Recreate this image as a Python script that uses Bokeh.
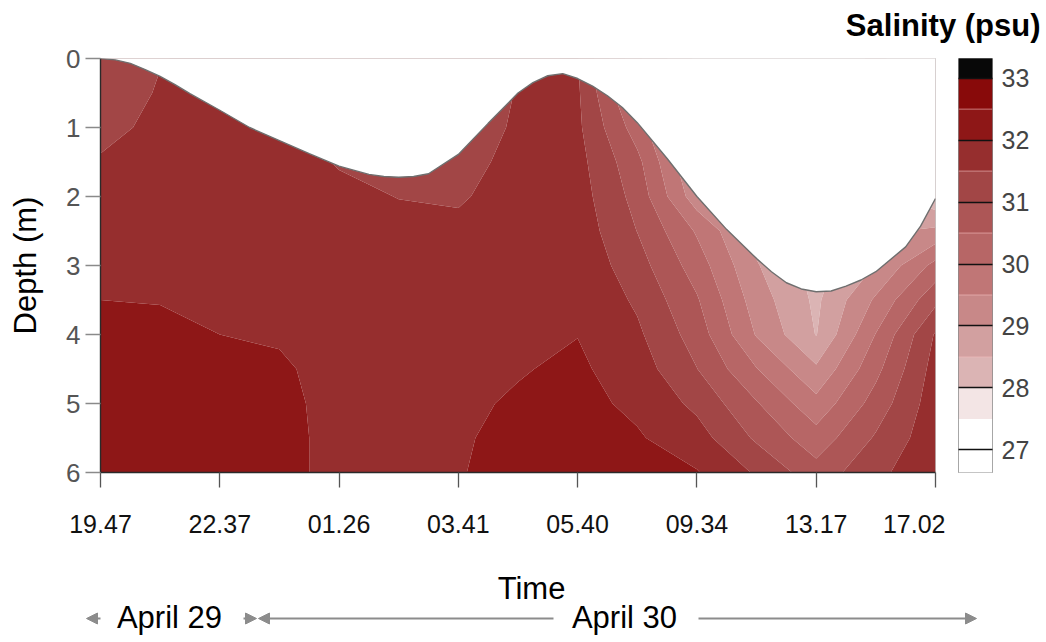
import numpy as np
from bokeh.plotting import figure
from bokeh.layouts import column, row
from bokeh.models import Range1d, FixedTicker, Arrow, NormalHead
from bokeh.core.properties import value
from bokeh.embed import file_html
from bokeh.resources import INLINE

FONT = "Liberation Sans"

# ---------------- data ----------------
time_labels = ["19.47", "22.37", "01.26", "03.41", "05.40", "09.34", "13.17", "17.02"]
stations = [0, 1, 2, 3, 4, 5, 6, 7]

# salinity grid: columns at half-station steps, rows at half-metre depth steps
grid_time = [0.0, 0.5, 1.0, 1.5, 2.0, 2.5, 3.0, 3.5, 4.0, 4.5, 5.0, 5.5, 6.0, 6.5, 7.0]
grid_depth = [0.0, 0.5, 1.0, 1.5, 2.0, 2.5, 3.0, 3.5, 4.0, 4.5, 5.0, 5.5, 6.0]

sal_t00 = [31.30, 31.37, 31.44, 31.52, 31.62, 31.75, 31.88, 32.00, 32.08, 32.12, 32.15, 32.15, 32.15]
sal_t05 = [31.49, 31.52, 31.55, 31.64, 31.72, 31.80, 31.90, 31.99, 32.06, 32.10, 32.12, 32.14, 32.15]
sal_t10 = [31.55, 31.58, 31.62, 31.68, 31.74, 31.80, 31.87, 31.94, 32.00, 32.06, 32.10, 32.12, 32.13]
sal_t15 = [31.60, 31.62, 31.65, 31.68, 31.72, 31.77, 31.83, 31.90, 31.97, 32.04, 32.08, 32.10, 32.10]
sal_t20 = [31.30, 31.35, 31.40, 31.47, 31.60, 31.70, 31.77, 31.82, 31.86, 31.90, 31.90, 31.90, 31.90]
sal_t25 = [31.20, 31.25, 31.30, 31.38, 31.49, 31.62, 31.70, 31.76, 31.80, 31.84, 31.86, 31.88, 31.90]
sal_t30 = [31.20, 31.25, 31.30, 31.38, 31.46, 31.58, 31.68, 31.76, 31.82, 31.87, 31.92, 31.96, 31.98]
sal_t35 = [31.45, 31.52, 31.55, 31.60, 31.65, 31.70, 31.76, 31.83, 31.90, 31.97, 32.05, 32.10, 32.12]
sal_t40 = [31.52, 31.57, 31.60, 31.67, 31.73, 31.80, 31.87, 31.94, 31.99, 32.08, 32.14, 32.18, 32.20]
sal_t45 = [29.60, 29.80, 30.25, 30.64, 30.82, 30.99, 31.21, 31.42, 31.59, 31.75, 31.90, 32.05, 32.12]
sal_t50 = [28.40, 28.60, 28.75, 28.90, 29.20, 29.94, 30.26, 30.55, 30.77, 31.01, 31.38, 31.71, 32.03]
sal_t55 = [28.20, 28.30, 28.40, 28.52, 28.60, 28.80, 29.04, 29.25, 29.46, 30.02, 30.54, 30.92, 31.44]
sal_t60 = [28.05, 28.08, 28.10, 28.12, 28.15, 28.18, 28.30, 28.40, 28.48, 29.08, 29.66, 30.21, 30.70]
sal_t65 = [28.60, 28.65, 28.70, 28.75, 28.80, 28.90, 29.02, 29.58, 30.02, 30.36, 30.71, 31.06, 31.38]
sal_t70 = [28.02, 28.04, 28.06, 28.08, 28.10, 29.11, 30.16, 30.87, 31.55, 31.70, 31.78, 31.83, 31.86]

# contour levels (psu) and band colours
levels = [26.5, 27.0, 27.5, 28.0, 28.5, 29.0, 29.5, 30.0, 30.5, 31.0, 31.5, 32.0, 32.5, 33.0, 33.5]
band_colors = ["#FFFFFF", "#FFFFFF", "#F3E5E5", "#DBB4B4", "#D2A0A0", "#C88888", "#C07676",
               "#B76666", "#AD5656", "#A24646", "#962E2E", "#8E1717", "#880A0A", "#080808"]
cbar_ticks = [27, 28, 29, 30, 31, 32, 33]

# water surface (depth of the surface below the reference level, m)
surface_time = [0.0, 0.125, 0.25, 0.375, 0.5, 0.625, 0.75, 1.0, 1.25, 1.5, 1.75, 2.0, 2.25,
                2.375, 2.5, 2.625, 2.75, 3.0, 3.25, 3.5, 3.625, 3.75, 3.875, 4.0, 4.125, 4.25,
                4.375, 4.5, 4.75, 5.0, 5.25, 5.5, 5.625, 5.75, 5.875, 6.0, 6.125, 6.25, 6.375,
                6.5, 6.75, 6.875, 7.0]
surface_depth = [0.0, 0.02, 0.07, 0.16, 0.26, 0.38, 0.51, 0.75, 1.0, 1.19, 1.38, 1.56, 1.68,
                 1.71, 1.72, 1.71, 1.67, 1.39, 0.94, 0.50, 0.35, 0.25, 0.22, 0.29, 0.40, 0.54,
                 0.71, 0.93, 1.45, 2.0, 2.48, 2.9, 3.09, 3.25, 3.34, 3.38, 3.37, 3.3, 3.21,
                 3.09, 2.73, 2.43, 2.03]

date_labels = ["April 29", "April 30"]

salinity = np.array([sal_t00, sal_t05, sal_t10, sal_t15, sal_t20, sal_t25, sal_t30, sal_t35,
                     sal_t40, sal_t45, sal_t50, sal_t55, sal_t60, sal_t65, sal_t70]).T

# ---------------- layout constants ----------------
FRAME_LEFT = 100
PX = 835.0 / 7.0          # pixels per station on the time axis
def sx(px):
    return (px - FRAME_LEFT) / PX

WIDE_RANGE = (sx(0), sx(1046))

# ---------------- main contour plot ----------------
main = figure(width=945, height=507, x_range=Range1d(0, 7), y_range=Range1d(6, 0),
              output_backend="svg", toolbar_location=None,
              min_border_left=100, min_border_right=10, min_border_top=15, min_border_bottom=78)
main.contour(x=grid_time, y=grid_depth, z=salinity, levels=levels,
             fill_color=band_colors, line_color=None)
n = len(surface_time)
main.varea(x=surface_time, y1=[-0.3] * n, y2=surface_depth, fill_color="white")
main.line(x=surface_time, y=surface_depth, line_color="#6f6f6f", line_width=1.4)

main.xgrid.visible = False
main.ygrid.visible = False
main.outline_line_color = "#c4c4c4"
main.background_fill_color = "white"

main.xaxis.ticker = FixedTicker(ticks=stations)
main.xaxis.major_label_overrides = {s: t for s, t in zip(stations, time_labels)}
main.yaxis.ticker = FixedTicker(ticks=[0, 1, 2, 3, 4, 5, 6])
main.yaxis.axis_label = "Depth (m)"

for ax in main.axis:
    ax.major_tick_out = 15
    ax.major_tick_in = 0
    ax.minor_tick_line_color = None
    ax.major_label_text_font = FONT
    ax.axis_label_text_font = FONT
    ax.axis_label_text_font_style = "normal"
    ax.axis_line_width = 1.4
    ax.major_tick_line_width = 1.3

main.xaxis.major_label_text_font_size = "25px"
main.xaxis.major_label_text_color = "#111111"
main.xaxis.major_label_standoff = 27
main.xaxis.axis_line_color = "#2a2a2a"
main.xaxis.major_tick_line_color = "#555555"

main.yaxis.major_label_text_font_size = "26px"
main.yaxis.major_label_text_color = "#555555"
main.yaxis.major_label_standoff = 5
main.yaxis.major_tick_line_color = "#8a8a8a"
main.yaxis.axis_line_color = "#2a2a2a"
main.yaxis.axis_label_text_font_size = "31px"
main.yaxis.axis_label_text_color = "#000000"
main.yaxis.axis_label_standoff = 20

# ---------------- colour bar ----------------
cbar = figure(width=101, height=507, x_range=Range1d(0, 1), y_range=Range1d(26.635, 33.317),
              x_axis_type=None, y_axis_location="right", output_backend="svg",
              toolbar_location=None,
              min_border_left=13, min_border_right=54, min_border_top=14, min_border_bottom=72)
cbar.quad(left=0, right=1, bottom=levels[:-1], top=levels[1:], fill_color=band_colors,
          line_color=None)
half_levels = [lv for lv in levels if (lv * 2) % 2 == 1 and 28 < lv < 33]
cbar.segment(x0=0, y0=half_levels, x1=1, y1=half_levels, line_color="#f4c0c0",
             line_alpha=0.6, line_width=1)
cbar.xgrid.visible = False
cbar.ygrid.visible = False
cbar.outline_line_color = "#8a8a8a"
cbar.yaxis.ticker = FixedTicker(ticks=cbar_ticks)
cbar.yaxis.major_tick_in = 34
cbar.yaxis.major_tick_out = 0
cbar.yaxis.major_tick_line_color = "#111111"
cbar.yaxis.major_tick_line_width = 1.5
cbar.yaxis.minor_tick_line_color = None
cbar.yaxis.axis_line_color = None
cbar.yaxis.major_label_standoff = 9
cbar.yaxis.major_label_text_font = FONT
cbar.yaxis.major_label_text_font_size = "25px"
cbar.yaxis.major_label_text_color = "#444444"

# ---------------- header (colour bar title) ----------------
header = figure(width=1046, height=43, x_range=Range1d(*WIDE_RANGE), y_range=Range1d(43, 0),
                x_axis_type=None, y_axis_type=None, min_border=0, outline_line_color=None,
                output_backend="svg", toolbar_location=None)
header.text(x=[sx(1040)], y=[25], text=["Salinity (psu)"], text_align="right",
            text_baseline="middle", text_font=value(FONT), text_font_size="31px",
            text_font_style="bold", text_color="#000000")

# ---------------- footer (axis title and date arrows) ----------------
footer = figure(width=1046, height=92, x_range=Range1d(*WIDE_RANGE), y_range=Range1d(92, 0),
                x_axis_type=None, y_axis_type=None, min_border=0, outline_line_color=None,
                output_backend="svg", toolbar_location=None)
footer.text(x=[sx(531)], y=[38], text=["Time"], text_align="center", text_baseline="middle",
            text_font=value(FONT), text_font_size="31px", text_color="#000000")
footer.text(x=[sx(169), sx(624)], y=[67, 67], text=date_labels, text_align="center",
            text_baseline="middle", text_font=value(FONT), text_font_size="31px",
            text_color="#000000")

ARROW_C = "#8c8c8c"
def add_arrow(px_from, px_to):
    footer.add_layout(Arrow(end=NormalHead(size=11, fill_color=ARROW_C, line_color=ARROW_C),
                            x_start=sx(px_from), y_start=68, x_end=sx(px_to), y_end=68,
                            line_color=ARROW_C, line_width=2))

add_arrow(100, 86)
add_arrow(243, 256)
add_arrow(553, 258)
add_arrow(698, 976)

layout = column(header, row(main, cbar), footer)
open("out.html", "w").write(file_html(layout, INLINE, title="Salinity section"))
